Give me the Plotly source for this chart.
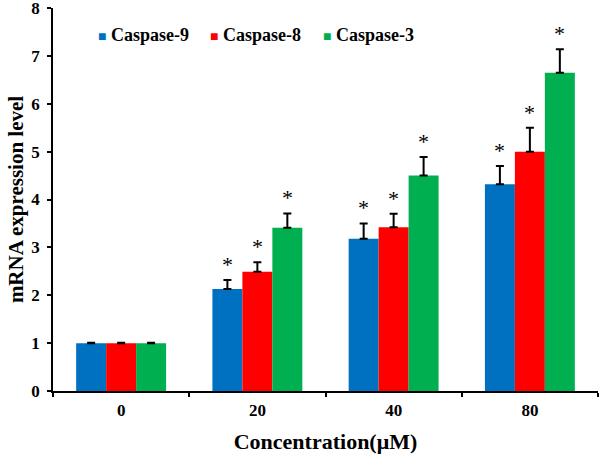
import plotly.graph_objects as go

categories = ["0", "20", "40", "80"]
series_names = ["Caspase-9", "Caspase-8", "Caspase-3"]
casp9 = [1.0, 2.13, 3.18, 4.32]
casp8 = [1.0, 2.49, 3.42, 5.0]
casp3 = [1.0, 3.41, 4.5, 6.65]
err9 = [0.01, 0.19, 0.32, 0.38]
err8 = [0.01, 0.20, 0.28, 0.50]
err3 = [0.01, 0.30, 0.39, 0.49]
significant = [False, True, True, True]
colors = ["#0070C0", "#FF0000", "#00B050"]

FONT = "Liberation Serif"

fig = go.Figure()
all_vals = [casp9, casp8, casp3]
all_errs = [err9, err8, err3]
for name, vals, errs, col in zip(series_names, all_vals, all_errs, colors):
    fig.add_trace(go.Bar(
        name=name, x=categories, y=vals, marker=dict(color=col, line=dict(width=0)),
        error_y=dict(type="data", array=errs, arrayminus=[0]*len(errs), symmetric=False,
                     color="black", thickness=2, width=4),
        offsetgroup=name, showlegend=False, hoverinfo="skip",
    ))

# asterisks
bar_w = 0.66 / 3
for si, (vals, errs) in enumerate(zip(all_vals, all_errs)):
    for ci, cat in enumerate(categories):
        if significant[ci]:
            fig.add_annotation(
                x=ci + (si - 1) * bar_w, y=vals[ci] + errs[ci], xref="x", yref="y",
                text="*", showarrow=False, yshift=1, yanchor="bottom",
                font=dict(family=FONT, size=22, color="black"),
            )

# legend drawn as text annotations
legend_x = [0.078, 0.284, 0.492]
for name, col, lx in zip(series_names, colors, legend_x):
    fig.add_annotation(
        x=lx, y=0.93, xref="paper", yref="paper", xanchor="left", yanchor="middle",
        text=f'<span style="color:{col};font-size:14px">■</span> {name}', showarrow=False,
        font=dict(family=FONT, size=18, color="black", weight="bold"),
    )

fig.update_layout(
    width=600, height=456,
    margin=dict(l=53, r=2, t=8, b=65, autoexpand=False),
    paper_bgcolor="white", plot_bgcolor="white",
    barmode="group", bargap=0.34, bargroupgap=0,
    font=dict(family=FONT, color="black"),
    showlegend=False,
    xaxis=dict(
        type="category", showline=True, linecolor="black", linewidth=1.5,
        ticks="outside", tickson="boundaries", ticklen=4, tickcolor="black", tickwidth=1.5,
        tickfont=dict(family=FONT, size=17, weight="bold"), ticklabelstandoff=3,
        title=dict(text="Concentration(μM)", font=dict(family=FONT, size=22, weight="bold"), standoff=14),
        showgrid=False, automargin=False, ticklabeloverflow="allow",
    ),
    yaxis=dict(
        range=[0, 8], dtick=1, showline=True, linecolor="black", linewidth=1.5,
        ticks="outside", ticklen=4, tickcolor="black", tickwidth=1.5,
        tickfont=dict(family=FONT, size=17, weight="bold"), ticklabelstandoff=4,
        title=dict(text="mRNA expression level", font=dict(family=FONT, size=21, weight="bold"), standoff=2),
        showgrid=False, zeroline=False, automargin=False, ticklabeloverflow="allow",
    ),
)

fig.write_html("out.html", config={"displayModeBar": False},
               post_script="document.body.style.margin='0';")
